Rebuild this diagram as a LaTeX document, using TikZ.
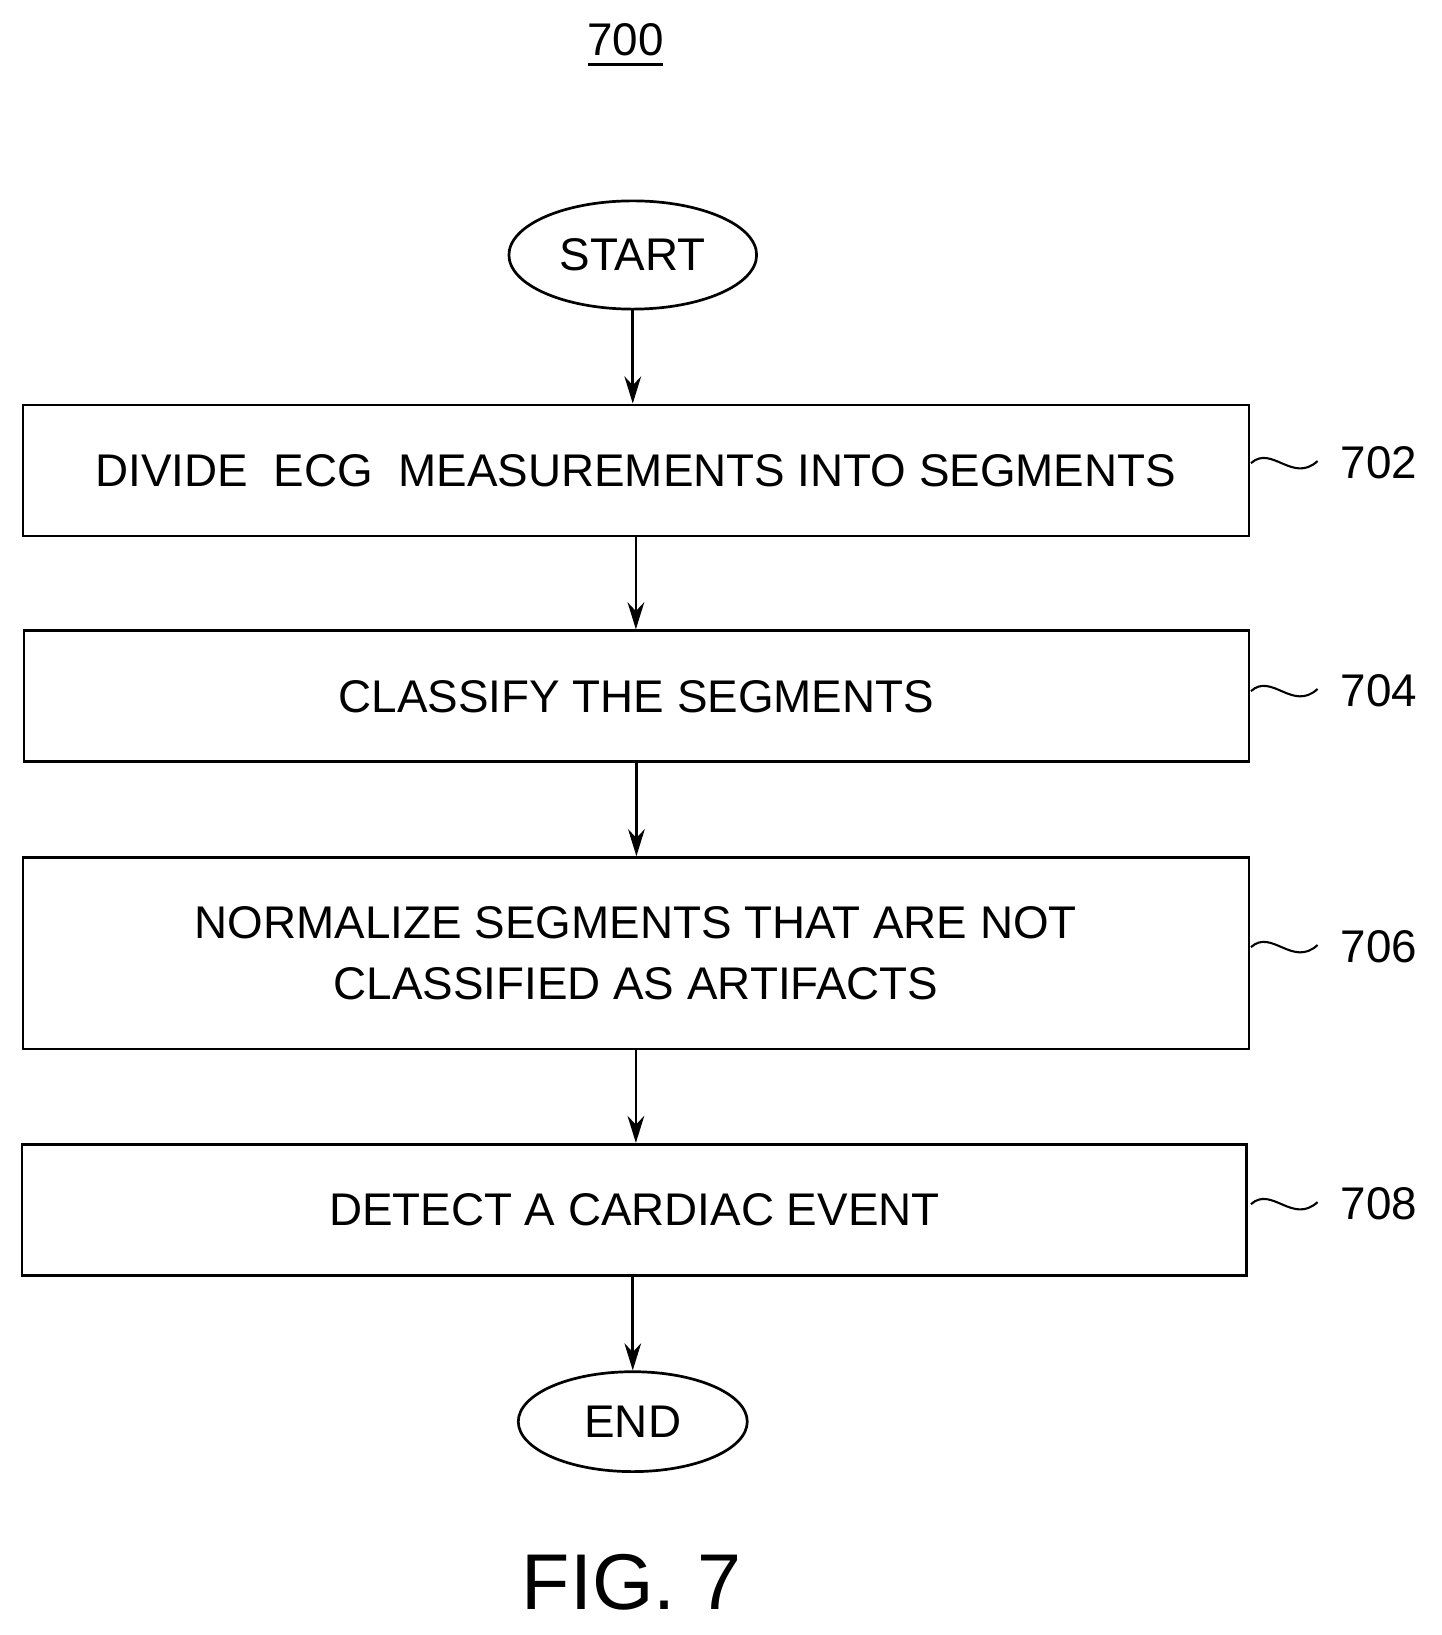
\documentclass[tikz,border=0pt]{standalone}
\usepackage{fontspec}
\setmainfont{Liberation Sans}
\usetikzlibrary{shapes.geometric,arrows.meta}
\begin{document}
\begin{tikzpicture}[x=0.5pt,y=-0.5pt,
  box/.style={draw,line width=1.3pt,minimum height=63pt,inner sep=0pt,font=\fontsize{22}{27}\selectfont,align=center},
  term/.style={draw,ellipse,line width=1.3pt,inner sep=0pt,font=\fontsize{22}{27}\selectfont},
  arr/.style={line width=1.3pt,-{Stealth[length=13pt,width=8pt]}},
  lbl/.style={font=\fontsize{22}{27}\selectfont},
  sq/.style={line width=1pt}]
\useasboundingbox (0,0) rectangle (1385,1571);
\node[lbl] (t700) at (601,38) {700};
\draw[line width=1pt] (565,62) -- (637,62);
\node[term,minimum width=119pt,minimum height=52pt] (start) at (608,245) {START};
\node[box,minimum width=589pt] (b702) at (611,452) {DIVIDE\ \ ECG\ \ MEASUREMENTS INTO SEGMENTS};
\node[box,minimum width=588.5pt] (b704) at (611.5,669) {CLASSIFY THE SEGMENTS};
\node[box,minimum width=589pt,minimum height=92pt] (b706) at (611,916) {NORMALIZE SEGMENTS THAT ARE NOT\\[2pt]CLASSIFIED AS ARTIFACTS};
\node[box,minimum width=588.5pt] (b708) at (609.5,1162.5) {DETECT A CARDIAC EVENT};
\node[term,minimum width=110pt,minimum height=48pt] (end) at (608,1366) {END};
\node[lbl,font=\fontsize{38}{44}\selectfont] (fig) at (607,1520) {FIG. 7};
\draw[arr] (start) -- (start|-b702.north);
\draw[arr] (b702) -- (b702|-b704.north);
\draw[arr] (b704) -- (b704|-b706.north);
\draw[arr] (b706) -- (b706|-b708.north);
\draw[arr] (b708.south-|end) -- (end);
\foreach \b/\t/\y in {b702/702/445,b704/704/664,b706/706/910,b708/708/1157}{
  \coordinate (s\t) at (1202,\y);
  \draw[sq] (s\t) .. controls (1222,\y-18) and (1242,\y+20) .. (1266,\y-2);
  \node[lbl] (l\t) at (1325,\y) {\t};
}
\end{tikzpicture}
\end{document}
